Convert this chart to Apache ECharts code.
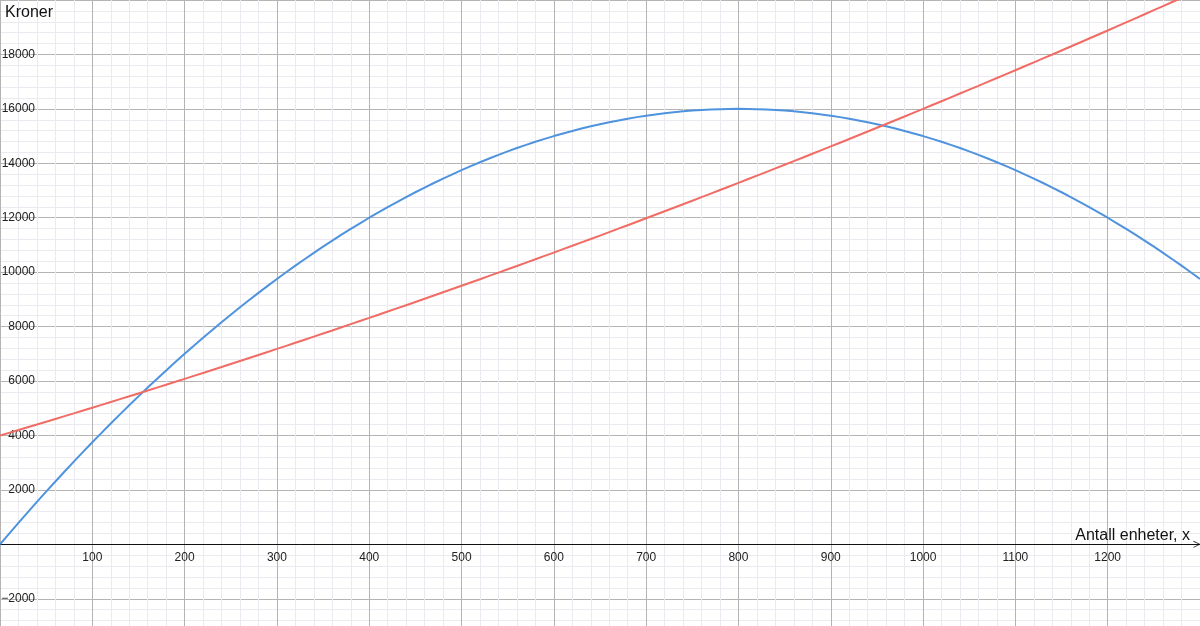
<!DOCTYPE html>
<html>
<head>
<meta charset="utf-8">
<script src="https://cdn.jsdelivr.net/npm/echarts@6/dist/echarts.min.js"></script>
<style>
html,body{margin:0;padding:0;background:#fff;}
#chart{width:1200px;height:626px;}
</style>
</head>
<body>
<div id="chart"></div>
<script>
// x values (Antall enheter)
var xValues = [0,20,40,60,80,100,120,140,160,180,200,220,240,260,280,300,320,340,360,380,400,420,440,460,480,500,520,540,560,580,600,620,640,660,680,700,720,740,760,780,800,820,840,860,880,900,920,940,960,980,1000,1020,1040,1060,1080,1100,1120,1140,1160,1180,1200,1220,1240,1260,1280,1300];
// blue curve (inntekt)
var blueValues = [0,790,1560,2310,3040,3750,4440,5110,5760,6390,7000,7590,8160,8710,9240,9750,10240,10710,11160,11590,12000,12390,12760,13110,13440,13750,14040,14310,14560,14790,15000,15190,15360,15510,15640,15750,15840,15910,15960,15990,16000,15990,15960,15910,15840,15750,15640,15510,15360,15190,15000,14790,14560,14310,14040,13750,13440,13110,12760,12390,12000,11590,11160,10710,10240,9750];
// red curve (kostnad)
var redValues = [4000,4201,4403,4607,4813,5020,5229,5439,5651,5865,6080,6297,6515,6735,6957,7180,7405,7631,7859,8089,8320,8553,8787,9023,9261,9500,9741,9983,10227,10473,10720,10969,11219,11471,11725,11980,12237,12495,12755,13017,13280,13545,13811,14079,14349,14620,14893,15167,15443,15721,16000,16281,16563,16847,17133,17420,17709,17999,18291,18585,18880,19177,19475,19775,20077,20380];
var xTickLabels = [100,200,300,400,500,600,700,800,900,1000,1100,1200];
var yTickLabels = [-2000,2000,4000,6000,8000,10000,12000,14000,16000,18000];
var xAxisName = 'Antall enheter, x';
var yAxisName = 'Kroner';

function pairs(ys){ return xValues.map(function(x,i){ return [x, ys[i]]; }); }

var chart = echarts.init(document.getElementById('chart'), null, {renderer:'canvas'});
var font = 'Liberation Sans, Arial, Helvetica, sans-serif';
chart.setOption({
  animation:false,
  backgroundColor:'#ffffff',
  grid:{left:0,right:0,top:0,bottom:-27.2,containLabel:false,outerBoundsMode:'none'},
  xAxis:{
    type:'value', min:0, max:1300, interval:100,
    position:'bottom', offset:-108.9,
    name:xAxisName, nameLocation:'end', nameGap:-10,
    nameTextStyle:{color:'#111',fontSize:16,fontFamily:font,align:'right',verticalAlign:'bottom',padding:[0,0,1,0]},
    axisLine:{show:true,onZero:false,lineStyle:{color:'#111',width:1},symbol:['none','path://M0,10 L5,0 L10,10 L8.8,10 L5,2 L1.2,10 Z'],symbolSize:[11,7],symbolOffset:[0,-3]},
    axisTick:{show:false},
    axisLabel:{show:true,color:'#222',fontSize:12,fontFamily:font,margin:7,
      formatter:function(v){ return xTickLabels.indexOf(v)>=0 ? String(v) : ''; }},
    splitLine:{show:true,lineStyle:{color:'#b4b4b4',width:1}},
    minorTick:{show:false,splitNumber:5},
    minorSplitLine:{show:true,lineStyle:{color:'#ece9f0',width:1}}
  },
  yAxis:{
    type:'value', min:-4000, max:20000, interval:2000,
    position:'left',
    name:yAxisName, nameLocation:'end', nameGap:-5,
    nameTextStyle:{color:'#111',fontSize:16,fontFamily:font,align:'left',verticalAlign:'top',padding:[0,0,0,5]},
    axisLine:{show:false,onZero:false,lineStyle:{color:'#111',width:1}},
    axisTick:{show:false},
    axisLabel:{show:true,color:'#222',fontSize:12,fontFamily:font,margin:-35,align:'right',
      formatter:function(v){ return yTickLabels.indexOf(v)>=0 ? (v<0 ? '\u2212'+Math.abs(v) : String(v)) : ''; }},
    splitLine:{show:true,lineStyle:{color:'#b4b4b4',width:1}},
    minorTick:{show:false,splitNumber:5},
    minorSplitLine:{show:true,lineStyle:{color:'#ece9f0',width:1}}
  },
  series:[
    {type:'line',name:'blue',data:pairs(blueValues),showSymbol:false,smooth:0.2,
     lineStyle:{color:'#4f93de',width:2},itemStyle:{color:'#4f93de'},z:3},
    {type:'line',name:'red',data:pairs(redValues),showSymbol:false,smooth:0.2,
     lineStyle:{color:'#f06c64',width:2},itemStyle:{color:'#f06c64'},z:3}
  ]
});
</script>
</body>
</html>
